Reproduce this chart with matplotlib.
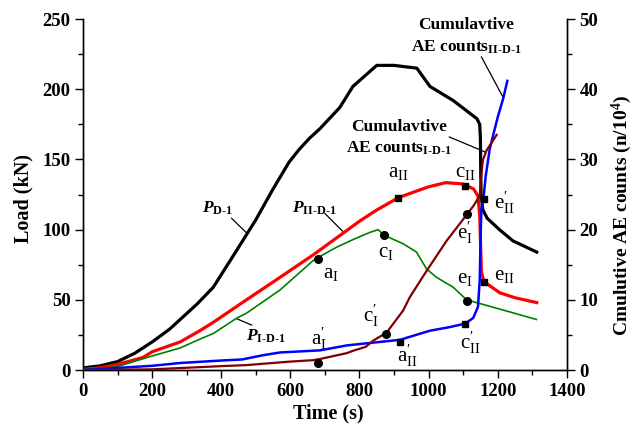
import matplotlib
matplotlib.use("Agg")
import matplotlib.pyplot as plt
from matplotlib.ticker import MultipleLocator

plt.rcParams["font.family"] = ["Liberation Serif", "DejaVu Serif"]
plt.rcParams["mathtext.fontset"] = "custom"
plt.rcParams["mathtext.rm"] = "Liberation Serif"
plt.rcParams["mathtext.it"] = "Liberation Serif:bold:italic"
plt.rcParams["mathtext.bf"] = "Liberation Serif:bold"

HY = "\u2010"  # plain hyphen inside math text

# --- P_D-1 (load, kN)
t_d1 = [0, 50, 100, 150, 200, 250, 281, 330, 377, 444, 500, 550, 596, 625, 655,
        686, 743, 781, 850, 900, 966, 1004, 1071, 1140, 1148, 1150, 1151, 1152,
        1157, 1170, 1205, 1244, 1313]
load_d1 = [1.5, 3, 6, 12, 20, 29, 36, 47, 59, 85, 107, 129, 148, 157, 165,
           172, 187, 202, 217, 217, 215, 202, 192, 179, 175, 165, 140, 125,
           114, 108, 100, 92, 84]

# --- P_II-D-1 (load, kN)
t_ii = [0, 50, 100, 174, 200, 281, 338, 377, 473, 570, 666, 750, 800, 850, 912,
        960, 1000, 1050, 1100, 1130, 1143, 1148, 1151, 1153, 1160, 1206, 1250, 1313]
load_ii = [0.5, 1.5, 4, 9, 13, 20, 28, 34, 50, 66, 82, 97, 106, 114, 122.7,
           127, 130.5, 133.5, 132.5, 129, 124, 110, 85, 70, 63, 55, 51.5, 48]

# --- P_I-D-1 (load, kN)
t_i = [0, 50, 100, 200, 281, 338, 377, 445, 473, 570, 666, 686, 734, 782, 830,
       854, 871, 926, 965, 994, 1023, 1071, 1110, 1168, 1226, 1312]
load_i = [0.3, 1, 2.5, 10, 15.7, 22, 26, 37, 40.5, 57, 78, 81, 87.5, 93, 98,
          100, 96, 90, 84, 72, 66, 59, 50, 46, 42, 36]

# --- cumulative AE counts II-D-1 (n/10^4)
t_ae_ii = [0, 100, 200, 281, 400, 460, 520, 570, 686, 763, 801, 917, 1004, 1060,
           1105, 1129, 1143, 1148, 1151, 1153, 1160, 1165, 1177, 1200, 1216, 1228]
ae_ii = [0, 0.3, 0.6, 1.0, 1.35, 1.5, 2.1, 2.5, 2.8, 3.5, 3.7, 4.3, 5.6, 6.1,
         6.6, 7.4, 9.0, 12.8, 20, 23, 25, 27.5, 31.5, 36, 38.7, 41.2]

# --- cumulative AE counts I-D-1 (n/10^4)
t_ae_i = [0, 200, 281, 400, 473, 600, 666, 686, 763, 782, 818, 840, 878, 926,
          946, 994, 1052, 1110, 1130, 1148, 1152, 1157, 1168, 1197]
ae_i = [0, 0.1, 0.28, 0.55, 0.7, 1.2, 1.4, 1.57, 2.4, 2.75, 3.3, 4.2, 5.3, 8.45,
        10.4, 14.1, 18.4, 22.1, 23.4, 24.8, 27.5, 29.9, 31.3, 33.5]

# --- characteristic points
load_circles_t = [679, 871, 1110]
load_circles_v = [79, 96, 49]
ae_circles_t = [679, 877, 1111]
ae_circles_v = [1.04, 5.2, 22.2]
load_squares_t = [912, 1105, 1160]
load_squares_v = [122.7, 131, 62.7]
ae_squares_t = [917, 1105, 1161]
ae_squares_v = [4.03, 6.55, 24.3]

# point labels, positioned in load coordinates
pt_labels = [
    (r"$\mathregular{a_{II}}$", 883, 137.5),
    (r"$\mathregular{c_{II}}$", 1076, 137.7),
    (r"$\mathregular{e_{II}^{\prime}}$", 1190, 115),
    (r"$\mathregular{e_{II}}$", 1190, 64),
    (r"$\mathregular{e_{I}}$", 1081, 61.7),
    (r"$\mathregular{e_{I}^{\prime}}$", 1081, 93.5),
    (r"$\mathregular{c_{II}^{\prime}}$", 1090, 15.4),
    (r"$\mathregular{a_{II}^{\prime}}$", 909, 5.5),
    (r"$\mathregular{c_{I}^{\prime}}$", 811, 34),
    (r"$\mathregular{a_{I}}$", 693, 65.3),
    (r"$\mathregular{c_{I}}$", 854, 80.3),
    (r"$\mathregular{a_{I}^{\prime}}$", 660, 17.8),
]

INK = "black"
RED = "#ff0000"
GREEN = "#008000"
BLUE = "#0000ff"
BROWN = "#800000"

fig = plt.figure(figsize=(6.39, 4.28), dpi=100)
ax = fig.add_axes([0.130, 0.1355, 0.757, 0.820])
ax2 = ax.twinx()

ax.plot(t_d1, load_d1, color=INK, lw=2.3, zorder=3)
ax.plot(t_ii, load_ii, color=RED, lw=2.3, zorder=3)
ax.plot(t_i, load_i, color=GREEN, lw=1.2, zorder=3)
ax2.plot(t_ae_ii, ae_ii, color=BLUE, lw=1.8, zorder=3)
ax2.plot(t_ae_i, ae_i, color=BROWN, lw=1.6, zorder=3)

ax.plot(load_circles_t, load_circles_v, "o", color=INK, ms=5.5, zorder=5)
ax.plot(load_squares_t, load_squares_v, "s", color=INK, ms=5, zorder=5)
ax2.plot(ae_circles_t, ae_circles_v, "o", color=INK, ms=5.5, zorder=5)
ax2.plot(ae_squares_t, ae_squares_v, "s", color=INK, ms=5, zorder=5)

ax.set_xlim(0, 1400)
ax.set_ylim(0, 250)
ax2.set_ylim(0, 50)

for a in (ax, ax2):
    a.spines["top"].set_visible(False)
    for s in a.spines.values():
        s.set_linewidth(1.0)
    a.tick_params(which="major", direction="out", length=6, width=1,
                  labelsize=13.5, pad=3)
    a.tick_params(which="minor", direction="out", length=3.5, width=1)

ax.xaxis.set_major_locator(MultipleLocator(200))
ax.xaxis.set_minor_locator(MultipleLocator(100))
ax.yaxis.set_major_locator(MultipleLocator(50))
ax.yaxis.set_minor_locator(MultipleLocator(25))
ax2.yaxis.set_major_locator(MultipleLocator(10))
ax2.yaxis.set_minor_locator(MultipleLocator(5))
for lab in ax.get_xticklabels() + ax.get_yticklabels() + ax2.get_yticklabels():
    lab.set_fontweight("bold")

ax.set_xlabel("Time (s)", fontsize=14.5, fontweight="bold")
ax.set_ylabel("Load (kN)", fontsize=14.5, fontweight="bold")
ax2.set_ylabel(r"Cmulutive AE counts (n/10$\mathregular{^4}$)",
               fontsize=14, fontweight="bold")
ax.xaxis.set_label_coords(0.506, -0.094)
ax.yaxis.set_label_coords(-0.103, 0.49)
ax2.yaxis.set_label_coords(1.089, 0.44)

for txt, x, y in pt_labels:
    ax.text(x, y, txt, fontsize=15, ha="left", va="baseline", zorder=6)

# curve names with leader lines
ax.text(345, 112, r"$\it{P}$" + r"$\mathregular{_{D" + HY + "1}}$",
        fontsize=12.5, fontweight="bold", ha="left", va="baseline")
ax.plot([430, 474], [108, 97.5], color=INK, lw=0.9)
ax.text(604, 112, r"$\it{P}$" + r"$\mathregular{_{II" + HY + "D" + HY + "1}}$",
        fontsize=12.5, fontweight="bold", ha="left", va="baseline")
ax.plot([700, 753], [111.5, 98.4], color=INK, lw=0.9)
ax.text(473, 21, r"$\it{P}$" + r"$\mathregular{_{I" + HY + "D" + HY + "1}}$",
        fontsize=12.5, fontweight="bold", ha="left", va="baseline")
ax.plot([445, 488], [36.5, 32], color=INK, lw=0.9)

ax.text(1110, 243, "Cumulavtive", fontsize=12.5, fontweight="bold",
        ha="center", va="baseline")
ax.text(1110, 227, "AE counts" + r"$\mathregular{_{II" + HY + "D" + HY + "1}}$",
        fontsize=12.5, fontweight="bold", ha="center", va="baseline")
ax.plot([1153, 1214], [223, 195], color=INK, lw=0.9)
ax.text(915, 170, "Cumulavtive", fontsize=12.5, fontweight="bold",
        ha="center", va="baseline")
ax.text(915, 155, "AE counts" + r"$\mathregular{_{I" + HY + "D" + HY + "1}}$",
        fontsize=12.5, fontweight="bold", ha="center", va="baseline")
ax.plot([1060, 1162], [166, 155.5], color=INK, lw=0.9)

fig.savefig("out.png", dpi=100)
